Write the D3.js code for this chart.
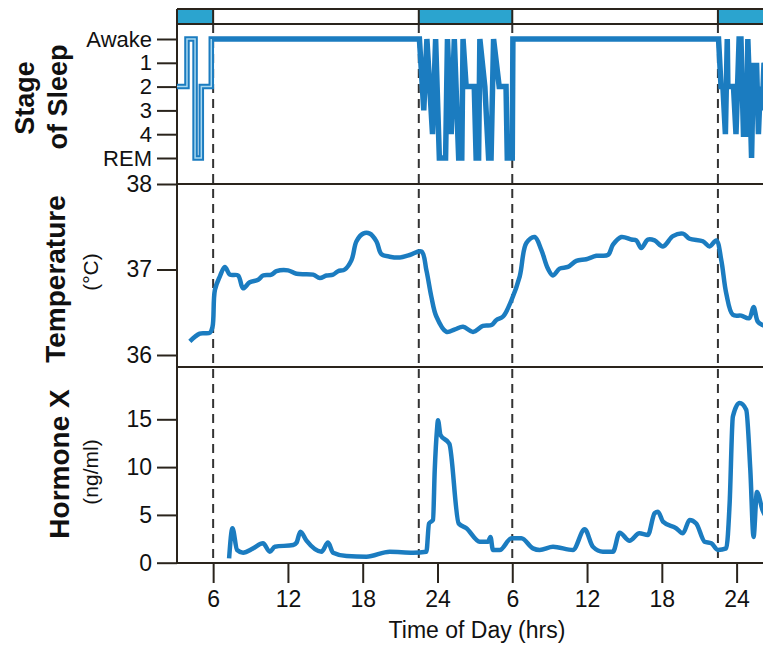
<!DOCTYPE html>
<meta charset="utf-8">
<head>
    <script src="https://d3js.org/d3.v7.min.js"></script>
    <style>
        body { margin: 0; background: #fff; }
        text { font-family: "Liberation Sans", Arial, sans-serif; }
    </style>
</head>
<body>
<div id="chart"></div>

<script>
    // hours are counted from midnight of day 1 (30 = 6 am of day 2)
    const stageLabels = ["Awake", "1", "2", "3", "4", "REM"]
    const xTicks = [6, 12, 18, 24, 30, 36, 42, 48]
    const xTickLabels = ["6", "12", "18", "24", "6", "12", "18", "24"]
    const tempTicks = [36, 37, 38]
    const hormoneTicks = [0, 5, 10, 15]
    const darkPeriods = [[3.1, 6], [22.5, 30], [46.5, 51]]
    const lightsOff = [6, 22.5, 30, 46.5]

    // [hour, stage index]
    const sleepData = [
        [3.1, 2], [3.9, 2], [3.9, 0], [4.55, 0], [4.55, 5], [5.05, 5], [5.05, 2], [5.85, 2], [5.85, 0],
        [22.55, 0], [22.9, 3], [23.15, 0], [23.6, 4], [23.85, 0], [24.15, 5], [24.65, 5], [24.8, 0],
        [25.1, 4], [25.35, 0], [25.7, 5], [25.95, 5], [26.05, 0], [26.3, 2], [26.95, 2], [27.1, 5],
        [27.3, 5], [27.4, 0], [27.8, 2], [28.1, 5], [28.3, 5], [28.5, 0], [28.95, 2], [29.5, 2],
        [29.6, 5], [30.0, 5], [30.05, 0],
        [46.55, 0], [46.75, 2], [46.9, 2], [47.1, 4], [47.25, 0], [47.3, 2], [47.75, 2], [47.95, 4],
        [48.2, 0], [48.35, 0], [48.55, 4], [48.8, 4], [48.9, 0], [49.1, 3], [49.2, 5], [49.35, 1],
        [49.5, 3], [49.6, 1], [49.75, 4], [49.9, 2], [50.05, 3], [50.2, 1], [50.5, 2]
    ]

    // [hour, deg C]
    const tempData = [
        [4.13, 36.16], [4.93, 36.25], [5.74, 36.26], [5.95, 36.33], [6.14, 36.76], [6.54, 36.92],
        [6.94, 37.03], [7.34, 36.94], [8.0, 36.93], [8.4, 36.78], [8.94, 36.85], [9.61, 36.88],
        [10.0, 36.93], [10.68, 36.94], [11.08, 36.98], [12.01, 36.99], [12.69, 36.95], [14.02, 36.94],
        [14.56, 36.9], [15.09, 36.93], [15.62, 36.94], [16.02, 36.98], [16.56, 37.0], [17.1, 37.11],
        [17.5, 37.33], [18.03, 37.42], [18.57, 37.42], [19.1, 37.33], [19.5, 37.18], [20.17, 37.15],
        [20.97, 37.14], [21.77, 37.17], [22.71, 37.21], [23.11, 36.99], [23.51, 36.68], [23.91, 36.45],
        [24.72, 36.27], [25.4, 36.3], [26.05, 36.33], [26.85, 36.27], [27.65, 36.34], [28.33, 36.35],
        [28.73, 36.41], [29.26, 36.45], [29.93, 36.64], [30.6, 36.92], [31.13, 37.31], [31.8, 37.38],
        [32.33, 37.23], [32.86, 37.01], [33.27, 36.93], [33.8, 37.01], [34.47, 37.03], [35.14, 37.1],
        [35.94, 37.12], [36.75, 37.16], [37.68, 37.17], [38.08, 37.29], [38.75, 37.38], [39.55, 37.35],
        [39.95, 37.34], [40.35, 37.25], [40.88, 37.35], [41.42, 37.34], [42.09, 37.27], [42.89, 37.39],
        [43.69, 37.42], [44.23, 37.36], [45.29, 37.33], [45.83, 37.27], [46.37, 37.34], [46.77, 37.11],
        [47.17, 36.72], [47.7, 36.47], [48.37, 36.46], [49.0, 36.43], [49.36, 36.56], [49.7, 36.39],
        [50.08, 36.35], [50.5, 36.33]
    ]

    // [hour, ng/ml]
    const hormoneData = [
        [7.28, 0.46], [7.55, 3.6], [7.92, 1.33], [8.4, 1.05], [9.21, 1.5], [10.0, 2.03], [10.55, 1.15],
        [10.95, 1.67], [12.42, 1.85], [12.69, 2.1], [13.0, 3.24], [13.49, 2.3], [14.69, 1.15],
        [15.22, 2.1], [15.62, 1.05], [16.7, 0.7], [18.3, 0.63], [20.17, 1.15], [22.04, 1.05],
        [23.11, 1.15], [23.32, 4.1], [23.64, 4.47], [23.78, 9.7], [23.96, 13.9], [24.04, 14.9],
        [24.24, 13.35], [24.95, 12.45], [25.7, 4.1], [26.32, 3.6], [27.39, 2.2], [28.06, 2.2],
        [28.25, 2.7], [28.45, 1.33], [28.99, 1.33], [29.93, 2.55], [30.73, 2.55], [31.66, 1.5],
        [32.2, 1.33], [33.27, 1.67], [34.87, 1.33], [35.81, 3.5], [36.47, 1.67], [37.28, 1.15],
        [38.08, 1.15], [38.61, 3.14], [39.41, 2.3], [40.2, 3.07], [40.88, 2.9], [41.42, 5.17],
        [41.69, 5.33], [42.09, 4.3], [43.16, 3.6], [43.69, 3.07], [44.23, 4.47], [44.76, 4.1],
        [45.43, 2.2], [45.97, 2.03], [46.5, 1.33], [47.17, 1.5], [47.44, 6.2], [47.7, 15.3],
        [48.24, 16.7], [48.77, 16.0], [49.1, 9.7], [49.36, 2.7], [49.63, 7.4], [50.08, 5.5], [50.5, 4.5]
    ]

    const W = 763, H = 646
    const left = 177, right = 774
    const barTop = 9, barBottom = 24, sleepBottom = 184, tempBottom = 367, plotBottom = 563
    const lineColor = "#1b7cc0"
    const frameColor = "#2a241c"

    const svg = d3.select("#chart").append("svg")
        .attr("width", W)
        .attr("height", H)

    const x = d3.scaleLinear().domain([3.1, 51]).range([left, right])
    const ySleep = d3.scaleLinear().domain([0, 5]).range([39, 158])
    const yTemp = d3.scaleLinear().domain([36, 38]).range([355, 184])
    const yHorm = d3.scaleLinear().domain([0, 15]).range([562.7, 419.3])

    svg.append("clipPath").attr("id", "plot-clip")
        .append("rect")
        .attr("x", left).attr("y", barBottom)
        .attr("width", W - left).attr("height", plotBottom - barBottom)

    // light / dark bar at the top
    svg.selectAll("rect.dark")
        .data(darkPeriods)
        .enter()
        .append("rect")
        .attr("class", "dark")
        .attr("x", d => x(d[0]))
        .attr("y", barTop)
        .attr("width", d => x(d[1]) - x(d[0]))
        .attr("height", barBottom - barTop)
        .attr("fill", "#2ba4cf")

    svg.selectAll("line.barsep")
        .data(lightsOff)
        .enter()
        .append("line")
        .attr("x1", d => x(d)).attr("x2", d => x(d))
        .attr("y1", barTop).attr("y2", barBottom)
        .attr("stroke", frameColor)
        .attr("stroke-width", 2)

    // dashed lights on/off lines
    svg.selectAll("line.dash")
        .data(lightsOff)
        .enter()
        .append("line")
        .attr("x1", d => x(d)).attr("x2", d => x(d))
        .attr("y1", barBottom).attr("y2", plotBottom)
        .attr("stroke", "#333")
        .attr("stroke-width", 2)
        .attr("stroke-dasharray", "9,6")

    // frame lines
    const hLines = [barTop, barBottom, sleepBottom, tempBottom, plotBottom]
    svg.selectAll("line.hframe")
        .data(hLines)
        .enter()
        .append("line")
        .attr("x1", left).attr("x2", W)
        .attr("y1", d => d).attr("y2", d => d)
        .attr("stroke", frameColor)
        .attr("stroke-width", 2)

    svg.append("line")
        .attr("x1", left).attr("x2", left)
        .attr("y1", barTop).attr("y2", plotBottom)
        .attr("stroke", frameColor)
        .attr("stroke-width", 2)

    // axes
    function styleAxis(g, size) {
        g.select(".domain").remove()
        g.selectAll(".tick line").attr("stroke", frameColor).attr("stroke-width", 2)
        g.selectAll(".tick text")
            .attr("fill", "#111")
            .style("font-size", size + "px")
            .style("font-family", '"Liberation Sans", Arial, sans-serif')
    }

    svg.append("g")
        .attr("transform", `translate(${left},0)`)
        .call(d3.axisLeft(ySleep).tickValues(d3.range(6)).tickFormat(i => stageLabels[i]).tickSize(20).tickPadding(5))
        .call(g => styleAxis(g, 22))

    svg.append("g")
        .attr("transform", `translate(${left},0)`)
        .call(d3.axisLeft(yTemp).tickValues(tempTicks).tickFormat(d3.format("d")).tickSize(20).tickPadding(5))
        .call(g => styleAxis(g, 23))

    svg.append("g")
        .attr("transform", `translate(${left},0)`)
        .call(d3.axisLeft(yHorm).tickValues(hormoneTicks).tickFormat(d3.format("d")).tickSize(20).tickPadding(5))
        .call(g => styleAxis(g, 23))

    svg.append("g")
        .attr("transform", `translate(0,${plotBottom})`)
        .call(d3.axisBottom(x).tickValues(xTicks).tickFormat((d, i) => xTickLabels[i]).tickSize(20).tickPadding(8))
        .call(g => styleAxis(g, 23))

    // data lines
    const plot = svg.append("g").attr("clip-path", "url(#plot-clip)")

    const sleepLine = d3.line()
        .x(d => x(d[0]))
        .y(d => ySleep(d[1]))

    plot.append("path")
        .datum(sleepData)
        .attr("fill", "none")
        .attr("stroke", lineColor)
        .attr("stroke-width", 5.5)
        .attr("stroke-linejoin", "miter")
        .attr("d", sleepLine)

    plot.append("path")
        .datum(sleepData.filter(d => d[0] < 6))
        .attr("fill", "none")
        .attr("stroke", "#a8d8f0")
        .attr("stroke-width", 1.5)
        .attr("d", sleepLine)

    plot.append("path")
        .datum(tempData)
        .attr("fill", "none")
        .attr("stroke", lineColor)
        .attr("stroke-width", 4.5)
        .attr("stroke-linejoin", "round")
        .attr("d", d3.line()
            .curve(d3.curveCatmullRom)
            .x(d => x(d[0]))
            .y(d => yTemp(d[1])))

    plot.append("path")
        .datum(hormoneData)
        .attr("fill", "none")
        .attr("stroke", lineColor)
        .attr("stroke-width", 4.5)
        .attr("stroke-linejoin", "round")
        .attr("d", d3.line()
            .curve(d3.curveMonotoneX)
            .x(d => x(d[0]))
            .y(d => yHorm(d[1])))

    // axis titles
    function vLabel(xPos, yPos, txt, size, weight) {
        svg.append("text")
            .attr("transform", `translate(${xPos},${yPos}) rotate(-90)`)
            .attr("text-anchor", "middle")
            .style("font-size", size + "px")
            .style("font-weight", weight)
            .attr("fill", "#111")
            .text(txt)
    }

    vLabel(34, 98, "Stage", 27, "bold")
    vLabel(67, 97, "of Sleep", 27, "bold")
    vLabel(65, 279, "Temperature", 28, "bold")
    vLabel(98, 272, "(°C)", 21, "normal")
    vLabel(69, 464, "Hormone X", 28, "bold")
    vLabel(98, 472, "(ng/ml)", 21, "normal")

    svg.append("text")
        .attr("x", 477)
        .attr("y", 638)
        .attr("text-anchor", "middle")
        .style("font-size", "23px")
        .attr("fill", "#111")
        .text("Time of Day (hrs)")
</script>
</body>
